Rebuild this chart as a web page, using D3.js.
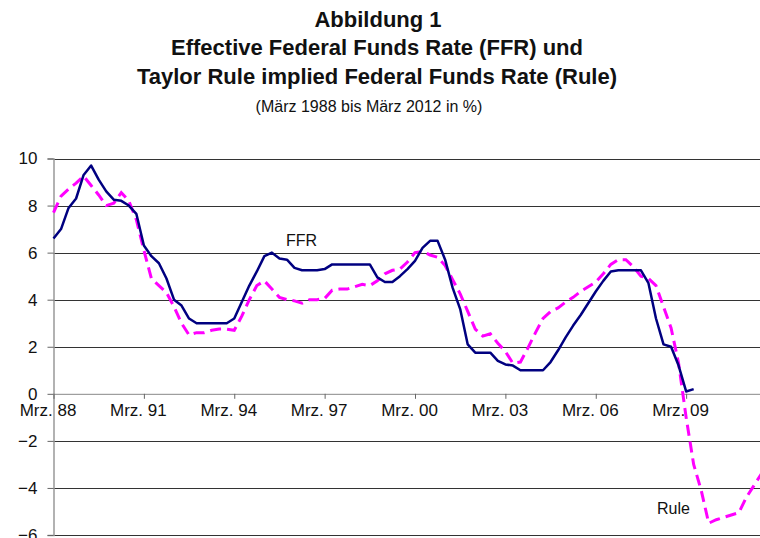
<!DOCTYPE html>
<head>
    <meta charset="utf-8">
    <script type="text/javascript" src="https://d3js.org/d3.v7.min.js"></script>
    <style>
        body { margin: 0; background: #fff; }
        .chart text { font-family: "Liberation Sans", Arial, sans-serif; fill: #111; }
        .title { font-weight: bold; font-size: 22px; text-anchor: middle; }
        .sub { font-size: 16px; text-anchor: middle; }
        .grid line { stroke: #333; stroke-width: 1; }
    </style>
</head>

<svg class="chart" width="760" height="538"></svg>

<script>

    // quarterly values, Mrz. 88 = index 0
    var tickLabels = ["Mrz. 88", "Mrz. 91", "Mrz. 94", "Mrz. 97", "Mrz. 00", "Mrz. 03", "Mrz. 06", "Mrz. 09"];
    var yTicks = [10, 8, 6, 4, 2, 0, -2, -4, -6];

    var ffr = [6.6, 7.0, 7.9, 8.3, 9.3, 9.7, 9.1, 8.6, 8.25, 8.2, 8.0, 7.65,
               6.3, 5.85, 5.55, 4.9, 4.0, 3.75, 3.2, 3.0, 3.0, 3.0, 3.0, 3.0,
               3.2, 3.9, 4.6, 5.2, 5.85, 6.0, 5.75, 5.7, 5.35, 5.25, 5.25, 5.25,
               5.3, 5.5, 5.5, 5.5, 5.5, 5.5, 5.5, 4.95, 4.75, 4.75, 5.0, 5.3,
               5.65, 6.2, 6.5, 6.5, 5.7, 4.5, 3.6, 2.1, 1.75, 1.75, 1.75, 1.4,
               1.25, 1.2, 1.0, 1.0, 1.0, 1.0, 1.35, 1.85, 2.4, 2.9, 3.35, 3.85,
               4.35, 4.8, 5.2, 5.25, 5.25, 5.25, 5.25, 4.7, 3.2, 2.1, 2.0, 1.2,
               0.1, 0.2];

    var rule = [7.7, 8.4, 8.7, 8.95, 9.25, 8.85, 8.45, 8.0, 8.1, 8.55, 8.2, 7.4,
                6.1, 4.9, 4.6, 4.3, 3.7, 3.0, 2.5, 2.6, 2.6, 2.7, 2.75, 2.75,
                2.7, 3.3, 4.0, 4.6, 4.8, 4.45, 4.1, 4.0, 3.95, 3.85, 4.0, 4.0,
                4.05, 4.4, 4.45, 4.45, 4.55, 4.65, 4.6, 4.8, 5.1, 5.25, 5.3, 5.6,
                6.0, 6.05, 5.9, 5.8, 5.45, 4.85, 4.25, 3.5, 2.75, 2.45, 2.55, 2.15,
                1.8, 1.3, 1.35, 1.95, 2.6, 3.2, 3.5, 3.65, 3.9, 4.1, 4.35, 4.55,
                4.75, 5.1, 5.5, 5.7, 5.7, 5.4, 5.0, 4.9, 4.6, 3.7, 2.8, 1.3,
                -1.0, -3.0, -4.1, -5.5, -5.35, -5.25, -5.15, -5.05, -4.4, -3.9, -3.4];

    var svg = d3.select(".chart");

    var x = d3.scaleLinear().domain([0, 96]).range([53.5, 776.5]);
    var y = d3.scaleLinear().domain([-6, 10]).range([535, 158.5]);

    // titles
    svg.append("text").attr("class", "title").attr("x", 378).attr("y", 27).text("Abbildung 1");
    svg.append("text").attr("class", "title").attr("x", 377).attr("y", 55).text("Effective Federal Funds Rate (FFR) und");
    svg.append("text").attr("class", "title").attr("x", 377).attr("y", 84).text("Taylor Rule implied Federal Funds Rate (Rule)");
    svg.append("text").attr("class", "sub").attr("x", 369).attr("y", 112).text("(März 1988 bis März 2012 in %)");

    // horizontal grid
    svg.append("g").attr("class", "grid")
        .selectAll("line")
        .data(yTicks.filter(function(d) { return d != 0; }))
        .enter().append("line")
        .attr("x1", 53.5).attr("x2", 760)
        .attr("y1", function(d) { return Math.round(y(d)) + 0.5; })
        .attr("y2", function(d) { return Math.round(y(d)) + 0.5; });

    // y axis
    var yAxis = svg.append("g")
        .attr("transform", "translate(53.5,0)")
        .call(d3.axisLeft(y).tickValues(yTicks).tickSize(6).tickPadding(10).tickFormat(d3.format("d")));
    yAxis.select(".domain").attr("stroke", "#999").attr("stroke-width", 1.5);
    yAxis.selectAll(".tick line").attr("stroke", "#666");
    yAxis.selectAll("text").style("font-size", "17px").attr("fill", "#111");

    // x axis at zero
    var xAxis = svg.append("g")
        .attr("transform", "translate(0," + y(0) + ")")
        .call(d3.axisBottom(x)
            .tickValues(d3.range(tickLabels.length).map(function(i) { return i * 12; }))
            .tickSize(5)
            .tickFormat(function(d) { return tickLabels[d / 12]; }));
    xAxis.select(".domain").attr("d", "M53.5,0.5H760").attr("stroke", "#888");
    xAxis.selectAll(".tick line").attr("stroke", "#666");
    xAxis.selectAll("text")
        .style("font-size", "17px")
        .attr("fill", "#111")
        .attr("x", -6)
        .attr("y", 10);

    var line = d3.line()
        .x(function(d, i) { return x(i); })
        .y(function(d) { return y(d); });

    svg.append("path")
        .datum(rule)
        .attr("fill", "none")
        .attr("stroke", "#ff00ff")
        .attr("stroke-width", 3)
        .attr("stroke-dasharray", "11,6")
        .attr("d", line);

    svg.append("path")
        .datum(ffr)
        .attr("fill", "none")
        .attr("stroke", "#000080")
        .attr("stroke-width", 2.5)
        .attr("stroke-linejoin", "round")
        .attr("d", line);

    svg.append("text").attr("x", 286).attr("y", 246).style("font-size", "16px").text("FFR");
    svg.append("text").attr("x", 657).attr("y", 514).style("font-size", "16px").text("Rule");

</script>
